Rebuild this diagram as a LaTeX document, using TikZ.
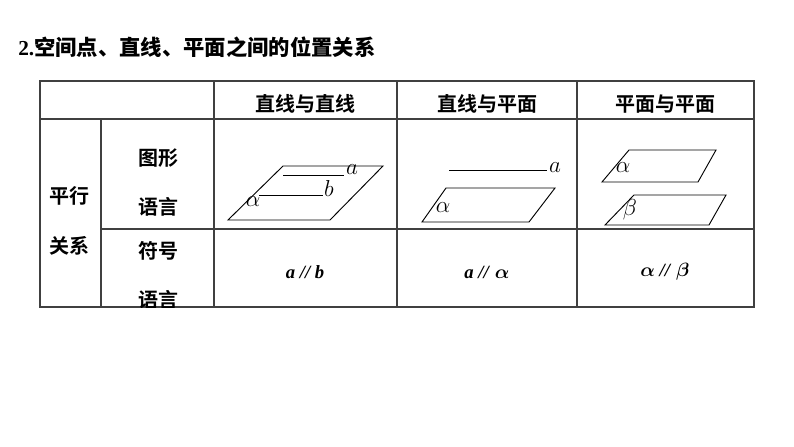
\documentclass[tikz,border=0pt]{standalone}
\usepackage{amsmath,amssymb}
\usepackage{bm}
\usepackage{fontspec}
\setmainfont{Liberation Serif}
\newfontfamily\cjk{Noto Sans CJK SC}
\newfontfamily\cjkb{Noto Sans CJK SC Bold}
\usetikzlibrary{positioning}

\begin{document}
\begin{tikzpicture}
	[   x=0.75pt,y=-0.75pt,
	    hcell/.style={font=\cjkb\fontsize{15}{17}\selectfont,inner sep=0pt},
	    mlabel/.style={font=\fontsize{17}{19}\selectfont,inner sep=1pt},
	    slabel/.style={font=\fontsize{14}{16}\selectfont,inner sep=1pt},
	    plane/.style={draw=black,line width=0.7pt},
	    grid/.style={draw=black!75,line width=0.8pt},
	]
	\useasboundingbox (0,0) rectangle (794,447);
	\node[anchor=west,inner sep=0pt] (title) at (18,47) {\fontsize{16}{18}\selectfont\textbf{2.}\cjk\bfseries 空间点、直线、平面之间的位置关系};
	
	% table grid
	\draw[grid] (40,81) rectangle (754,307);
	\draw[grid] (40,119) -- (754,119);
	\draw[grid] (101,229) -- (754,229);
	\draw[grid] (101,119) -- (101,307);
	\foreach \x in {214,397,577}
	{
		\draw[grid] (\x,81) -- (\x,307);
	}
	
	% headers
	\node[hcell] (h1) at (305,104) {直线与直线};
	\node[hcell] (h2) at (487,104) {直线与平面};
	\node[hcell] (h3) at (665,104) {平面与平面};
	\node[hcell] (row) at (70,196) {平行};
	\node[hcell] (row2) at (70,246) {关系};
	\node[hcell] (fig) at (158,158) {图形};
	\node[hcell] (fig2) at (158,207) {语言};
	\node[hcell] (sym) at (158,251) {符号};
	\begin{scope}
		\clip (101,229) rectangle (214,307);
		\node[hcell] (sym2) at (158,300) {语言};
	\end{scope}
	
	% figures: line and line
	\draw[plane] (228,220) -- (330,220) -- (383,166) -- (283,166) -- cycle;
	\coordinate (a1) at (283,175);
	\node[mlabel] (la) at (352,170) {$a$};
	\draw[plane] (a1) -- (la.west |- a1);
	\coordinate (b1) at (259,195);
	\node[mlabel] (lb) at (329,188) {$b$};
	\draw[plane] (b1) -- (lb.west |- b1);
	\node[mlabel] (al1) at (253,202) {$\alpha$};
	
	% line and plane
	\coordinate (a2) at (449,170);
	\node[mlabel] (la2) at (555,168) {$a$};
	\draw[plane] (a2) -- (la2.west |- a2);
	\draw[plane] (422,222) -- (529,222) -- (555,188) -- (446,188) -- cycle;
	\node[mlabel] (al2) at (443,208) {$\alpha$};
	
	% plane and plane
	\draw[plane] (602,182) -- (698,182) -- (716,150) -- (629,150) -- cycle;
	\node[mlabel] (al3) at (623,168) {$\alpha$};
	\draw[plane] (605,225) -- (709,225) -- (726,195) -- (634,195) -- cycle;
	\node[mlabel] (be3) at (630,210) {$\beta$};
	
	% symbols
	\node[slabel] (s1) at (305,272) {\textbf{\textit{a // b}}};
	\node[slabel] (s2) at (487,272) {\textbf{\textit{a //} $\bm{\alpha}$}};
	\node[slabel] (s3) at (665,272) {$\bm{\alpha}$ \textbf{\textit{//}} $\bm{\beta}$};
\end{tikzpicture}
\end{document}
